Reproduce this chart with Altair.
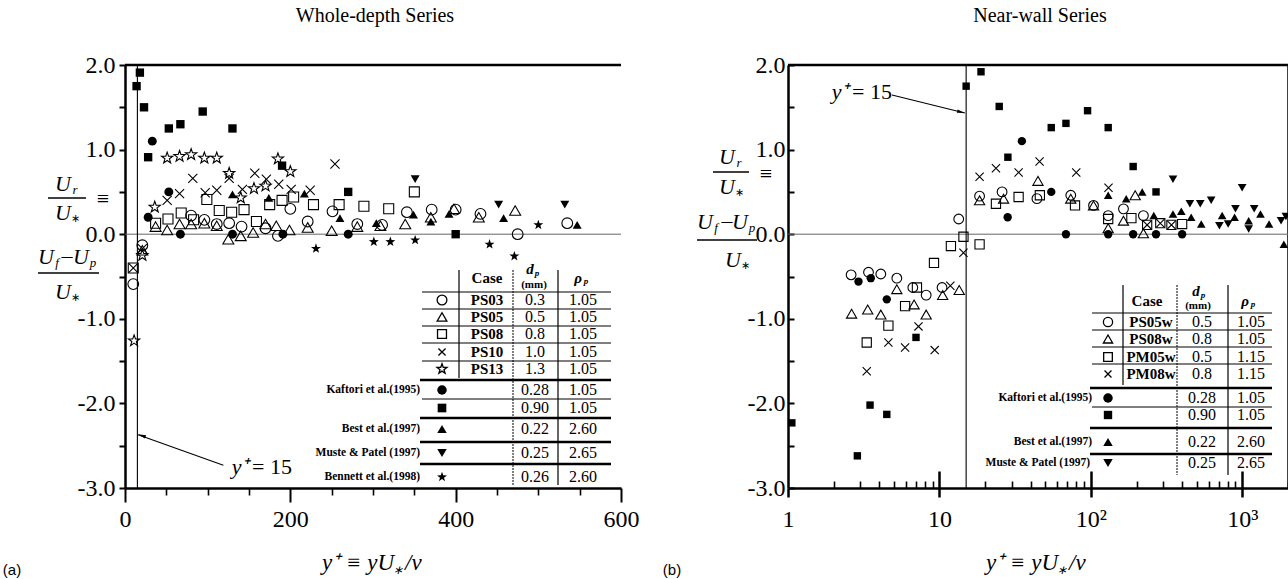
import altair as alt
import pandas as pd

# ---------------- Panel (a): whole-depth series (linear y+) ----------------
a_ps03_x = [10, 21, 80, 96, 111, 126, 141, 170, 185, 200, 221, 251, 281, 311, 341, 371, 400, 430, 475, 535]
a_ps03_y = [-0.59, -0.13, 0.22, 0.17, 0.12, 0.13, 0.09, 0.07, -0.02, 0.30, 0.15, 0.27, 0.12, 0.11, 0.26, 0.29, 0.29, 0.24, 0.00, 0.13]
a_ps05_x = [21, 37, 51, 66, 80, 96, 111, 125, 140, 155, 170, 183, 199, 221, 250, 281, 309, 339, 370, 398, 428, 472]
a_ps05_y = [-0.19, 0.09, 0.05, 0.12, 0.12, 0.13, 0.10, -0.06, -0.02, 0.02, 0.12, 0.10, 0.05, 0.08, 0.04, 0.09, 0.10, 0.12, 0.20, 0.30, 0.20, 0.28]
a_ps08_x = [10, 37, 52, 68, 83, 99, 114, 129, 144, 159, 175, 190, 204, 228, 259, 289, 319, 350]
a_ps08_y = [-0.40, 0.13, 0.18, 0.25, 0.17, 0.41, 0.28, 0.26, 0.29, 0.15, 0.35, 0.40, 0.44, 0.35, 0.35, 0.33, 0.30, 0.50]
a_ps10_x = [10, 21, 51, 66, 82, 97, 111, 126, 142, 157, 171, 186, 201, 224, 254]
a_ps10_y = [-0.40, -0.17, 0.40, 0.48, 0.66, 0.49, 0.52, 0.66, 0.53, 0.72, 0.65, 0.59, 0.53, 0.52, 0.83]
a_ps13_x = [11, 21, 36, 51, 66, 80, 96, 111, 126, 140, 156, 170, 185, 200]
a_ps13_y = [-1.26, -0.25, 0.32, 0.90, 0.92, 0.94, 0.90, 0.90, 0.72, 0.43, 0.54, 0.57, 0.89, 0.74]
a_k028_x = [28, 33, 53, 67, 130, 191, 270]
a_k028_y = [0.20, 1.10, 0.50, 0.00, 0.00, 0.00, 0.00]
a_k090_x = [14, 18, 23, 28, 53, 67, 94, 130, 190, 270, 400]
a_k090_y = [1.75, 1.91, 1.50, 0.91, 1.25, 1.30, 1.45, 1.25, 0.81, 0.50, 0.00]
a_best_x = [130, 174, 217, 260, 304, 349, 370, 392, 458, 547]
a_best_y = [0.47, 0.43, 0.48, 0.19, 0.13, 0.23, 0.15, 0.24, 0.19, 0.11]
a_muste_x = [351, 452, 532]
a_muste_y = [0.65, 0.35, 0.35]
a_benn_x = [231, 301, 321, 351, 441, 471, 500]
a_benn_y = [-0.17, -0.09, -0.09, -0.07, -0.12, -0.26, 0.11]

# ---------------- Panel (b): near-wall series (log y+) ----------------
b_ps05w_x = [2.61, 3.4, 4.1, 5.23, 6.67, 8.17, 10.4, 13.4, 18.4, 25.9, 44, 73.6, 104, 130, 164, 222]
b_ps05w_y = [-0.48, -0.45, -0.47, -0.52, -0.63, -0.72, -0.63, 0.18, 0.45, 0.50, 0.42, 0.46, 0.34, 0.22, 0.30, 0.22]
b_ps08w_x = [2.63, 3.36, 4.1, 5.23, 6.8, 8.17, 10.5, 13.5, 18.4, 26.5, 44.7, 73.6, 104, 130, 164, 196, 222]
b_ps08w_y = [-0.94, -0.89, -0.95, -0.65, -0.83, -0.95, -0.72, -0.66, 0.40, 0.42, 0.63, 0.42, 0.34, 0.07, 0.16, 0.46, 0.01]
b_pm05w_x = [3.31, 4.6, 5.93, 7.1, 9.2, 11.9, 14.4, 18.4, 23.6, 33.3, 46, 78.5, 130, 185, 235, 287, 340, 400]
b_pm05w_y = [-1.28, -1.08, -0.85, -0.63, -0.34, -0.14, -0.03, -0.12, 0.36, 0.44, 0.46, 0.34, 0.18, 0.19, 0.11, 0.13, 0.11, 0.12]
b_pm08w_x = [3.31, 4.6, 5.93, 7.27, 9.3, 11.8, 14.4, 18.4, 23.6, 33.3, 45.8, 80, 130.6, 235, 287, 340]
b_pm08w_y = [-1.62, -1.28, -1.34, -1.09, -1.37, -0.61, -0.22, 0.68, 0.78, 0.73, 0.86, 0.73, 0.55, 0.11, 0.13, 0.11]
b_k028_x = [2.92, 3.52, 4.49, 28.2, 35, 54.7, 68.4, 130, 190, 269, 400]
b_k028_y = [-0.56, -0.52, -0.77, 0.20, 1.10, 0.50, 0.00, 0.00, 0.00, 0.00, 0.00]
b_k090_x = [1.06, 2.87, 3.48, 4.49, 7.0, 15, 18.8, 24.8, 28.3, 54.7, 68.4, 95, 130, 190, 269]
b_k090_y = [-2.23, -2.62, -2.02, -2.13, -1.22, 1.75, 1.92, 1.51, 0.91, 1.26, 1.31, 1.46, 1.26, 0.80, 0.50]
b_best_x = [130, 171, 218, 260, 348, 395, 459, 535, 735, 888, 1100, 1316, 1500, 1878]
b_best_y = [0.46, 0.42, 0.50, 0.22, 0.24, 0.27, 0.20, 0.12, 0.22, 0.20, 0.16, 0.24, 0.12, -0.12]
b_muste_x = [348, 450, 527, 622, 705, 805, 900, 996, 1100, 1196, 1800, 1937]
b_muste_y = [0.65, 0.36, 0.36, 0.40, 0.10, 0.12, 0.30, 0.55, 0.06, 0.30, 0.16, 0.21]

# ---------------- legend tables ----------------
a_cases = ["PS03", "PS05", "PS08", "PS10", "PS13"]
a_dp = ["0.3", "0.5", "0.8", "1.0", "1.3", "0.28", "0.90", "0.22", "0.25", "0.26"]
a_rho = ["1.05", "1.05", "1.05", "1.05", "1.05", "1.05", "1.05", "2.60", "2.65", "2.60"]
a_refs = ["Kaftori et al.(1995)", "Best et al.(1997)", "Muste & Patel (1997)", "Bennett et al.(1998)"]
b_cases = ["PS05w", "PS08w", "PM05w", "PM08w"]
b_dp = ["0.5", "0.8", "0.5", "0.8", "0.28", "0.90", "0.22", "0.25"]
b_rho = ["1.05", "1.05", "1.15", "1.15", "1.05", "1.05", "2.60", "2.65"]
b_refs = ["Kaftori et al.(1995)", "Best et al.(1997)", "Muste & Patel (1997)"]

SERIF = "Liberation Serif"
STAR = ("M0,-1L0.235,-0.324L0.951,-0.309L0.38,0.124L0.588,0.809L0,0.4"
        "L-0.588,0.809L-0.38,0.124L-0.951,-0.309L-0.235,-0.324Z")
CROSS = "M-0.8,-0.8L0.8,0.8M-0.8,0.8L0.8,-0.8"
ARROW = "M0,-1L0.42,1L-0.42,1Z"
YLAB = ("datum.value % 1 === 0 ? (datum.value < 0 ? '-' + format(-datum.value, '.1f') "
        ": format(datum.value, '.1f')) : ''")
HALF = [2, 1.5, 1, 0.5, 0, -0.5, -1, -1.5, -2, -2.5, -3]


def ysc():
    return alt.Scale(domain=[-3, 2], range=[488, 65], nice=False, zero=False)


def xl():
    return alt.Scale(domain=[0, 600], range=[125, 621], nice=False, zero=False)


def xr():
    return alt.Scale(type="log", domain=[1, 2000], range=[788, 1288], nice=False)


def pts(xs, ys, xsc, shape, filled, size, sw=1.1, xaxis=None, yaxis=None):
    df = pd.DataFrame({"x": xs, "y": ys})
    return alt.Chart(df).mark_point(shape=shape, filled=filled, size=size, strokeWidth=sw,
                                    color="black", opacity=1).encode(
        x=alt.X("x:Q", scale=xsc, axis=xaxis),
        y=alt.Y("y:Q", scale=ysc(), axis=yaxis))


def seg(xs, xe, ys, ye, xsc, sw, color="black", xaxis=None, yaxis=None):
    df = pd.DataFrame({"x": [xs], "x2": [xe], "y": [ys], "y2": [ye]})
    return alt.Chart(df).mark_rule(strokeWidth=sw, color=color).encode(
        x=alt.X("x:Q", scale=xsc, axis=xaxis), x2="x2:Q",
        y=alt.Y("y:Q", scale=ysc(), axis=yaxis), y2="y2:Q")


def head(x, y, xsc, angle):
    df = pd.DataFrame({"x": [x], "y": [y]})
    return alt.Chart(df).mark_point(shape=ARROW, filled=True, size=64, angle=angle,
                                    color="black", opacity=1).encode(
        x=alt.X("x:Q", scale=xsc, axis=None), y=alt.Y("y:Q", scale=ysc(), axis=None))


def txt(rows, size, style="normal", weight="normal", align="center", font=SERIF):
    df = pd.DataFrame(rows, columns=["t", "px", "py"])
    return alt.Chart(df).mark_text(font=font, fontSize=size, fontStyle=style, fontWeight=weight,
                                   align=align, baseline="middle", color="black").encode(
        x=alt.X("px:Q", scale=None, axis=None), y=alt.Y("py:Q", scale=None, axis=None),
        text="t:N")


def plines(rows, sw, dash=None, color="black"):
    df = pd.DataFrame(rows, columns=["x1", "x2", "y1", "y2"])
    kw = dict(strokeWidth=sw, color=color)
    if dash is not None:
        kw["strokeDash"] = dash
    return alt.Chart(df).mark_rule(**kw).encode(
        x=alt.X("x1:Q", scale=None, axis=None), x2="x2:Q",
        y=alt.Y("y1:Q", scale=None, axis=None), y2="y2:Q")


def psym(px, py, shape, filled, size):
    df = pd.DataFrame({"px": [px], "py": [py]})
    return alt.Chart(df).mark_point(shape=shape, filled=filled, size=size, strokeWidth=1.3,
                                    color="black", opacity=1).encode(
        x=alt.X("px:Q", scale=None, axis=None), y=alt.Y("py:Q", scale=None, axis=None))


common = dict(grid=False, title=None, tickColor="black", domainColor="black",
              labelColor="black", labelFont=SERIF, labelFontSize=24)

# ---- axes ----
ax_a_x = alt.Axis(orient="bottom", offset=-91, values=[0, 200, 400, 600], tickSize=14, tickWidth=2,
                  domainWidth=2.5, labelPadding=5, labelFlush=False, labelOverlap=False, **common)
ax_a_y = alt.Axis(orient="left", offset=-125, values=HALF, tickSize=6, tickWidth=2, domainWidth=2.5,
                  labelPadding=4, labelExpr=YLAB, labelOverlap=False, **common)
ax_a_xminor = alt.Axis(orient="bottom", offset=-91, values=[50, 100, 150, 250, 300, 350, 450, 500, 550],
                       tickSize=7, tickWidth=1.6, labels=False, domain=False, **common)
ax_b_x = alt.Axis(orient="bottom", offset=-91, values=[1, 10, 100, 1000], tickSize=9, tickWidth=2.5,
                  domainWidth=2.5, labelPadding=10, labelFlush=False, labelOverlap=False,
                  labelExpr="datum.value === 1 ? '1' : datum.value === 10 ? '10' : datum.value === 100 ? '10²' : '10³'",
                  **common)
ax_b_y = alt.Axis(orient="left", offset=-788, values=[2, 1, 0, -1, -2, -3], ticks=False, tickSize=0,
                  domainWidth=2.5, labelPadding=3, labelExpr=YLAB, labelOverlap=False, **common)
minor_log = [2, 3, 4, 5, 6, 7, 8, 9, 20, 30, 40, 50, 60, 70, 80, 90,
             200, 300, 400, 500, 600, 700, 800, 900, 2000]
ax_b_xin = alt.Axis(orient="top", offset=-488, values=minor_log, tickSize=7, tickWidth=1.6,
                    labels=False, domain=False, **common)
ax_b_yin = alt.Axis(orient="right", offset=-500, values=HALF, tickSize=6, tickWidth=2,
                    labels=False, domain=False, **common)
ax_b_xmaj = alt.Axis(orient="top", offset=-488, values=[10, 100, 1000], tickSize=17, tickWidth=2.5,
                     labels=False, domain=False, **common)

# ---- panel (a) ----
GA = [
    seg(0, 600, 2, 2, xl(), 2.5, xaxis=ax_a_xminor),
    seg(0, 600, 0, 0, xl(), 1.0, color="#666666"),
    seg(15, 15, -3, 2, xl(), 1.1, xaxis=ax_a_x, yaxis=ax_a_y),
    pts(a_ps03_x, a_ps03_y, xl(), "circle", False, 115),
    pts(a_ps05_x, a_ps05_y, xl(), "triangle-up", False, 120),
    pts(a_ps08_x, a_ps08_y, xl(), "square", False, 100),
    pts(a_ps10_x, a_ps10_y, xl(), CROSS, False, 130),
    pts(a_ps13_x, a_ps13_y, xl(), STAR, False, 140),
    pts(a_k028_x, a_k028_y, xl(), "circle", True, 80),
    pts(a_k090_x, a_k090_y, xl(), "square", True, 70),
    pts(a_best_x, a_best_y, xl(), "triangle-up", True, 80),
    pts(a_muste_x, a_muste_y, xl(), "triangle-down", True, 80),
    pts(a_benn_x, a_benn_y, xl(), STAR, True, 110),
    seg(119, 15.8, -2.73, -2.37, xl(), 1.1),
    head(20.3, -2.38, xl(), 290),
]

# ---- panel (b) ----
GB = [
    seg(1, 2000, 2, 2, xr(), 2.5, xaxis=ax_b_xin, yaxis=ax_b_yin),
    seg(2000, 2000, -3, 2, xr(), 1.5),
    seg(1, 2000, 0, 0, xr(), 1.0, color="#666666", xaxis=ax_b_xmaj),
    seg(15, 15, -3, 2, xr(), 1.1, xaxis=ax_b_x, yaxis=ax_b_y),
    pts(b_ps05w_x, b_ps05w_y, xr(), "circle", False, 95),
    pts(b_ps08w_x, b_ps08w_y, xr(), "triangle-up", False, 105),
    pts(b_pm05w_x, b_pm05w_y, xr(), "square", False, 85),
    pts(b_pm08w_x, b_pm08w_y, xr(), CROSS, False, 105),
    pts(b_k028_x, b_k028_y, xr(), "circle", True, 70),
    pts(b_k090_x, b_k090_y, xr(), "square", True, 55),
    pts(b_best_x, b_best_y, xr(), "triangle-up", True, 75),
    pts(b_muste_x, b_muste_y, xr(), "triangle-down", True, 75),
    seg(4.86, 14.7, 1.645, 1.433, xr(), 1.1),
    head(13.9, 1.444, xr(), 104),
]

# ---- texts ----
titles = txt([("Whole-depth Series", 375, 16), ("Near-wall Series", 1040, 16)], 20)
xt_main = txt([("y⁺ ≡ yU", 394, 563), ("y⁺ ≡ yU", 1058, 563)], 23, style="italic", align="right")
xt_star = txt([("∗", 398, 570), ("∗", 1062, 570)], 12, style="italic")
xt_tail = txt([("/ν", 405, 563), ("/ν", 1069, 563)], 23, style="italic", align="left")
panel_tags = txt([("(a)", 12, 570), ("(b)", 672, 570)], 15, font="Liberation Sans")

frac_U = txt([("U", 63, 184), ("U", 63, 213), ("U", 46, 257), ("U", 81, 257), ("U", 63, 292),
              ("U", 727, 157), ("U", 727, 187), ("U", 705, 222), ("U", 740, 222), ("U", 733, 260)],
             22, style="italic")
frac_sub = txt([("r", 75, 190), ("f", 57, 263), ("p", 93, 263),
                ("r", 739, 163), ("f", 716, 228), ("p", 752, 228)], 13, style="italic")
frac_star = txt([("∗", 75, 219), ("∗", 75, 298), ("∗", 739, 193), ("∗", 745, 266)], 11)
frac_ops = txt([("≡", 103, 199), ("–", 67, 256), ("≡", 766, 174), ("–", 727, 221)], 22)
frac_bars = plines([(48, 86, 198, 198), (38, 99, 273, 273), (713, 749, 172, 172), (697, 757, 240, 240)], 1.3)

ann_y = txt([("y⁺", 240, 467), ("y⁺", 840, 92)], 22, style="italic")
ann_eq = txt([("= 15", 252, 467), ("= 15", 852, 92)], 22, align="left")

# left table
a_rows_y = [300, 317, 334, 352, 369, 390, 408, 429, 453, 477]
a_tab = []
a_tab.append(txt([(c, 487, a_rows_y[i]) for i, c in enumerate(a_cases)], 15, weight="bold"))
a_tab.append(txt([(d, 535, a_rows_y[i]) for i, d in enumerate(a_dp)], 16))
a_tab.append(txt([(r, 583, a_rows_y[i]) for i, r in enumerate(a_rho)], 16))
a_tab.append(txt([("Case", 487, 278)], 15, weight="bold"))
a_tab.append(txt([("d", 530, 269), ("ρ", 578, 278)], 15, style="italic", weight="bold"))
a_tab.append(txt([("p", 537, 273), ("p", 586, 281)], 9, style="italic", weight="bold"))
a_tab.append(txt([("(mm)", 534, 285)], 11, weight="bold"))
a_tab.append(txt([(a_refs[0], 420, 390), (a_refs[1], 420, 429), (a_refs[2], 420, 453),
                  (a_refs[3], 420, 477)], 11.5, weight="bold", align="right"))
a_tab.append(plines([(422, 611, y, y) for y in [292, 309, 326, 343, 361, 399]], 1.0))
a_tab.append(plines([(420, 611, y, y) for y in [380, 418, 442, 464]], 2.5))
a_tab.append(plines([(459, 459, 270, 378), (558, 558, 270, 485)], 1.2))
a_tab.append(plines([(513, 513, 270, 485)], 1.0, dash=[2, 1]))
a_syms = [("circle", False, 95), ("triangle-up", False, 95), ("square", False, 80), (CROSS, False, 80),
          (STAR, False, 110), ("circle", True, 90), ("square", True, 75), ("triangle-up", True, 90),
          ("triangle-down", True, 90), (STAR, True, 110)]
for i, (shp, fl, sz) in enumerate(a_syms):
    a_tab.append(psym(442, a_rows_y[i], shp, fl, sz))

# right table
b_rows_y = [322, 339, 357, 374, 398, 415, 442, 463]
b_tab = []
b_tab.append(txt([(c, 1151, b_rows_y[i]) for i, c in enumerate(b_cases)], 15, weight="bold"))
b_tab.append(txt([(d, 1202, b_rows_y[i]) for i, d in enumerate(b_dp)], 16))
b_tab.append(txt([(r, 1251, b_rows_y[i]) for i, r in enumerate(b_rho)], 16))
b_tab.append(txt([("Case", 1147, 301)], 15, weight="bold"))
b_tab.append(txt([("d", 1196, 291), ("ρ", 1245, 301)], 15, style="italic", weight="bold"))
b_tab.append(txt([("p", 1203, 295), ("p", 1253, 304)], 9, style="italic", weight="bold"))
b_tab.append(txt([("(mm)", 1198, 306)], 11, weight="bold"))
b_tab.append(txt([(b_refs[0], 1092, 398), (b_refs[1], 1092, 442), (b_refs[2], 1090, 463)],
                 11.5, weight="bold", align="right"))
b_tab.append(plines([(1092, 1272, y, y) for y in [313, 330, 347, 364, 407]], 1.0))
b_tab.append(plines([(1090, 1272, y, y) for y in [388, 428, 454]], 2.5))
b_tab.append(plines([(1123, 1123, 285, 385), (1228, 1228, 285, 475)], 1.2))
b_tab.append(plines([(1177, 1177, 285, 475)], 1.0, dash=[2, 1]))
b_syms = [("circle", False, 85), ("triangle-up", False, 85), ("square", False, 75), (CROSS, False, 75),
          ("circle", True, 90), ("square", True, 70), ("triangle-up", True, 90), ("triangle-down", True, 90)]
for i, (shp, fl, sz) in enumerate(b_syms):
    b_tab.append(psym(1108, b_rows_y[i], shp, fl, sz))

chart = alt.layer(
    *GA, *GB,
    titles, xt_main, xt_star, xt_tail, panel_tags, frac_U, frac_sub, frac_star, frac_ops, frac_bars,
    ann_y, ann_eq,
    *a_tab, *b_tab,
).resolve_scale(x="independent", y="independent").properties(
    width=1288, height=579, padding=0, autosize=alt.AutoSizeParams(type="none"),
    background="white",
).configure_view(stroke=None)

chart.save("out.html", embed_options={"renderer": "svg", "actions": False})
